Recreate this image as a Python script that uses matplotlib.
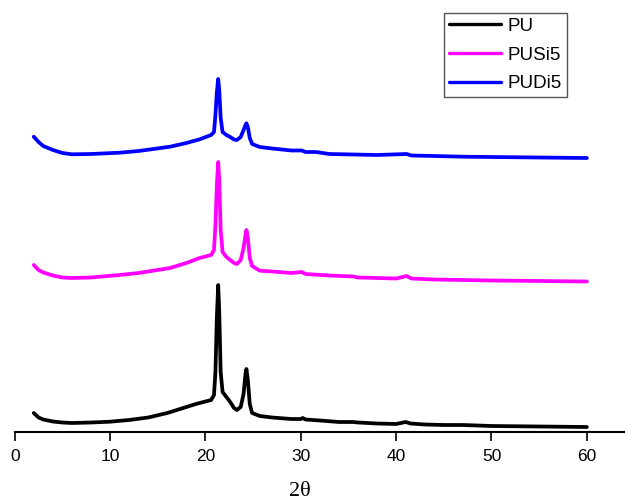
import matplotlib
matplotlib.use("Agg")
import matplotlib.pyplot as plt
import numpy as np

# XRD patterns (2theta in degrees, intensity in a.u.), stacked with vertical offsets
two_theta_pu = [2.0, 2.5, 3.0, 4.0, 5.0, 6.0, 8.0, 10.0, 12.0, 14.0, 16.0, 18.0, 19.0,
                20.0, 20.6, 20.9, 21.05, 21.2, 21.34, 21.45, 21.6, 21.8, 22.2, 22.6,
                23.0, 23.3, 23.7, 24.0, 24.2, 24.3, 24.45, 24.65, 24.9, 25.7, 27.0,
                29.0, 30.0, 30.2, 30.5, 32.0, 34.0, 35.5, 36.0, 38.0, 40.0, 41.0, 41.5,
                43.0, 45.0, 47.0, 50.0, 55.0, 60.0]
intensity_pu = [19, 14.5, 12.5, 10.5, 9.5, 9, 9.5, 10.3, 12, 14.5, 19, 25, 28,
                30.5, 32, 37, 60, 115, 147, 120, 60, 40, 35, 30,
                24, 22, 25, 38, 58, 63, 52, 28, 19, 16, 14.5,
                13, 13, 14, 12.5, 11.5, 10, 10, 9.5, 8.5, 8, 10, 8.5,
                7.5, 7, 7, 6, 5.5, 5]

two_theta_si = [2.0, 2.5, 3.0, 4.0, 5.0, 6.0, 8.0, 11.0, 13.0, 16.3, 18.0, 19.4, 20.6,
                20.9, 21.05, 21.2, 21.34, 21.45, 21.6, 21.8, 22.2, 22.6, 23.0, 23.3,
                23.7, 24.0, 24.2, 24.3, 24.45, 24.65, 24.9, 25.7, 27.0, 29.0, 30.1,
                30.5, 33.0, 35.5, 36.0, 38.0, 40.0, 41.1, 41.6, 44.0, 47.0, 50.0,
                55.0, 60.0]
intensity_si = [17, 12, 9.5, 6.5, 4.5, 4, 4.5, 7, 9, 14, 19, 24, 27,
                32, 57, 97, 120, 102, 52, 30, 25, 22, 19, 18,
                22, 34, 47, 52, 44, 24, 16, 11.3, 10.5, 9, 10,
                8, 6.5, 5.5, 4.5, 4, 3.5, 6, 3.5, 2.5, 2, 1.5,
                1, 0.5]

two_theta_di = [2.0, 2.5, 3.0, 4.0, 5.0, 6.0, 8.0, 11.0, 13.0, 16.3, 18.0, 19.4, 20.6,
                20.9, 21.05, 21.2, 21.34, 21.45, 21.6, 21.8, 22.2, 22.6, 23.0, 23.3,
                23.7, 24.0, 24.2, 24.3, 24.45, 24.65, 24.9, 25.7, 27.0, 29.0, 30.1,
                30.5, 31.6, 33.0, 35.5, 38.0, 41.1, 41.6, 44.0, 47.0, 50.0, 55.0, 60.0]
intensity_di = [15.3, 10, 6, 2, -1, -2.3, -2, -0.7, 1, 5.3, 9, 12.7, 17,
                20, 37, 60, 73, 62, 34, 20, 17, 15, 12.5, 12,
                15, 22, 27, 28.7, 25, 14, 8, 5, 3.5, 1.5, 1.5,
                0, 0, -2, -2.5, -3, -2, -3.5, -4, -4.7, -5, -5.5, -6]

offsets = [0, 150, 280]
labels = ["PU", "PUSi5", "PUDi5"]
colors = ["#000000", "#ff00ff", "#0000ff"]

fig = plt.figure(figsize=(6.25, 5.01), dpi=100)
ax = fig.add_axes([14.7 / 625, 69 / 501, 610.3 / 625, 432 / 501])

series = [(two_theta_pu, intensity_pu), (two_theta_si, intensity_si),
          (two_theta_di, intensity_di)]
for (x, y), off, lab, col in zip(series, offsets, labels, colors):
    ax.plot(x, np.asarray(y) + off, color=col, lw=2.7, label=lab,
            solid_joinstyle="round", solid_capstyle="round")

ax.set_xlim(0, 64)
ax.set_ylim(0, 432)
for side in ("left", "top", "right"):
    ax.spines[side].set_visible(False)
ax.spines["bottom"].set_linewidth(1.5)
ax.set_yticks([])
ax.set_xticks([0, 10, 20, 30, 40, 50, 60])
ax.tick_params(axis="x", direction="out", length=6.5, width=1.2, pad=5.5,
               labelsize=12.5)
for t in ax.get_xticklabels():
    t.set_fontfamily("Liberation Sans")

fig.text(300 / 625, 1 - 492 / 501, "2\u03b8", ha="center", va="center",
         fontsize=16, family="Liberation Serif")

leg = ax.legend(loc="upper left", bbox_to_anchor=(444 / 625, 1 - 13 / 501),
                bbox_transform=fig.transFigure, borderaxespad=0,
                prop={"family": "Liberation Sans", "size": 13.5},
                handlelength=2.8, handletextpad=0.35, labelspacing=0.62,
                borderpad=0.25, fancybox=False, framealpha=1)
leg.get_frame().set_edgecolor("#555555")
leg.get_frame().set_linewidth(1.0)
for line in leg.get_lines():
    line.set_linewidth(2.4)

fig.savefig("out.png", dpi=100)
